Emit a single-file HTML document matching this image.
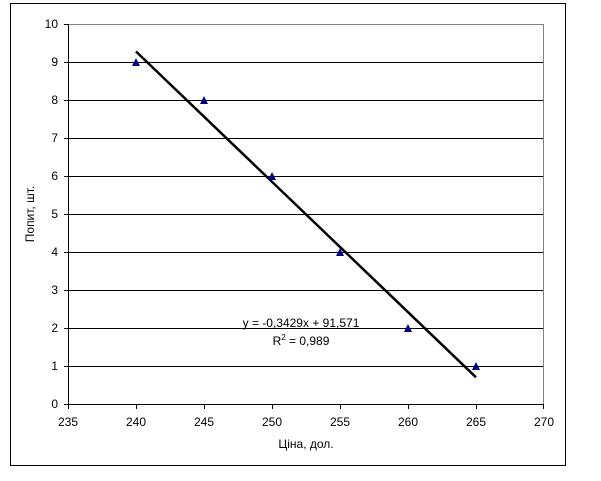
<!DOCTYPE html>
<html><head><style>body{margin:0;background:#fff}</style></head><body>
<svg width="601" height="476" xmlns="http://www.w3.org/2000/svg" font-family="Liberation Sans, sans-serif" font-size="12">
<rect x="10.5" y="3.5" width="555" height="462" fill="#fff" stroke="#000"/>
<g stroke="#000" stroke-width="1">
<line x1="68" y1="366.5" x2="543" y2="366.5"/><line x1="68" y1="328.5" x2="543" y2="328.5"/>
<line x1="68" y1="290.5" x2="543" y2="290.5"/><line x1="68" y1="252.5" x2="543" y2="252.5"/>
<line x1="68" y1="214.5" x2="543" y2="214.5"/><line x1="68" y1="176.5" x2="543" y2="176.5"/>
<line x1="68" y1="138.5" x2="543" y2="138.5"/><line x1="68" y1="100.5" x2="543" y2="100.5"/>
<line x1="68" y1="62.5" x2="543" y2="62.5"/>
</g>
<line x1="68" y1="24.5" x2="543" y2="24.5" stroke="#808080"/>
<line x1="543.5" y1="24" x2="543.5" y2="404" stroke="#808080"/>
<line x1="68.5" y1="24" x2="68.5" y2="404" stroke="#000"/>
<line x1="64" y1="404.5" x2="543" y2="404.5" stroke="#000"/>
<g stroke="#000">
<line x1="64" y1="24.5" x2="68" y2="24.5"/><line x1="64" y1="62.5" x2="68" y2="62.5"/><line x1="64" y1="100.5" x2="68" y2="100.5"/><line x1="64" y1="138.5" x2="68" y2="138.5"/><line x1="64" y1="176.5" x2="68" y2="176.5"/><line x1="64" y1="214.5" x2="68" y2="214.5"/><line x1="64" y1="252.5" x2="68" y2="252.5"/><line x1="64" y1="290.5" x2="68" y2="290.5"/><line x1="64" y1="328.5" x2="68" y2="328.5"/><line x1="64" y1="366.5" x2="68" y2="366.5"/>
<line x1="68.5" y1="404" x2="68.5" y2="409"/><line x1="136.5" y1="404" x2="136.5" y2="409"/><line x1="204.5" y1="404" x2="204.5" y2="409"/><line x1="272.5" y1="404" x2="272.5" y2="409"/><line x1="340.5" y1="404" x2="340.5" y2="409"/><line x1="408.5" y1="404" x2="408.5" y2="409"/><line x1="476.5" y1="404" x2="476.5" y2="409"/><line x1="543.5" y1="404" x2="543.5" y2="409"/>
</g>
<g text-anchor="end">
<text x="58" y="28">10</text><text x="58" y="66">9</text><text x="58" y="104">8</text><text x="58" y="142">7</text><text x="58" y="180">6</text><text x="58" y="218">5</text><text x="58" y="256">4</text><text x="58" y="294">3</text><text x="58" y="332">2</text><text x="58" y="370">1</text><text x="58" y="408">0</text>
</g>
<g text-anchor="middle">
<text x="68" y="426">235</text><text x="136" y="426">240</text><text x="204" y="426">245</text><text x="272" y="426">250</text><text x="340" y="426">255</text><text x="408" y="426">260</text><text x="476" y="426">265</text><text x="544" y="426">270</text>
<text x="306" y="448">Ціна, дол.</text>
<text transform="translate(34,214) rotate(-90)">Попит, шт.</text>
<text x="301" y="327">y = -0,3429x + 91,571</text>
<text x="301" y="345">R<tspan font-size="8" dy="-5">2</tspan><tspan dy="5"> = 0,989</tspan></text>
</g>
<line x1="136" y1="51.5" x2="476" y2="377.3" stroke="#000" stroke-width="2.5"/>
<g fill="#000080">
<path d="M136 58 L132 66 L140 66Z"/><path d="M204 96 L200 104 L208 104Z"/><path d="M272 172 L268 180 L276 180Z"/><path d="M340 248 L336 256 L344 256Z"/><path d="M408 324 L404 332 L412 332Z"/><path d="M476 362 L472 370 L480 370Z"/>
</g>
</svg>
</body></html>
